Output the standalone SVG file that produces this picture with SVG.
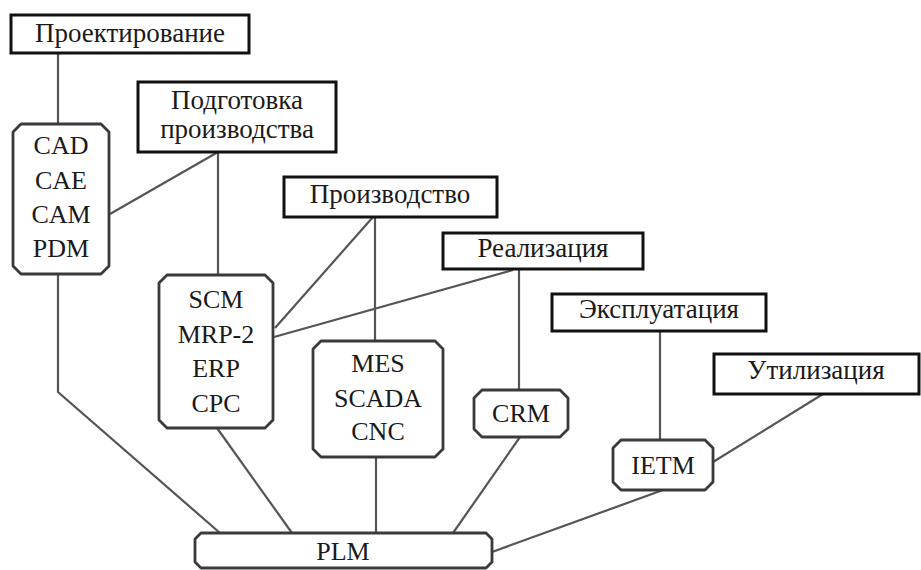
<svg xmlns="http://www.w3.org/2000/svg" width="921" height="570" viewBox="0 0 921 570">
  <style>
    .stage { fill: #ffffff; stroke: #111111; stroke-width: 3; }
    .sys { fill: #ffffff; stroke: #3a3a3a; stroke-width: 2.8; stroke-linejoin: round; }
    .link { fill: none; stroke: #555555; stroke-width: 2.2; }
    text { font-family: "Liberation Serif", "Times New Roman", serif; font-size: 26px; fill: #1a1a1a; text-anchor: middle; }
    .ru { font-size: 27px; }
  </style>
  <rect width="921" height="570" fill="#ffffff"/>

  <!-- connectors -->
  <g id="connectors">
    <line class="link" x1="58" y1="53" x2="58" y2="124"/>
    <polyline class="link" points="58,274 58,392 220,533"/>
    <line class="link" x1="218" y1="152" x2="110" y2="214"/>
    <line class="link" x1="218" y1="152" x2="218" y2="275"/>
    <line class="link" x1="373" y1="217" x2="275" y2="328"/>
    <line class="link" x1="375" y1="217" x2="375" y2="341"/>
    <line class="link" x1="513" y1="270" x2="274" y2="337"/>
    <line class="link" x1="519" y1="269" x2="519" y2="390"/>
    <line class="link" x1="660" y1="331" x2="660" y2="440"/>
    <line class="link" x1="823" y1="394" x2="713" y2="462"/>
    <line class="link" x1="217" y1="428" x2="292" y2="533"/>
    <line class="link" x1="376" y1="457" x2="376" y2="533"/>
    <line class="link" x1="520" y1="437" x2="453" y2="533"/>
    <line class="link" x1="663" y1="490" x2="492" y2="552"/>
  </g>

  <!-- lifecycle stages -->
  <g id="stage-design">
    <rect class="stage" x="11" y="15" width="238" height="38"/>
    <text class="ru" x="130" y="42">Проектирование</text>
  </g>
  <g id="stage-preparation">
    <rect class="stage" x="138" y="82" width="198" height="70"/>
    <text class="ru" x="237" y="109">Подготовка</text>
    <text class="ru" x="237" y="138">производства</text>
  </g>
  <g id="stage-production">
    <rect class="stage" x="284" y="177" width="213" height="40"/>
    <text class="ru" x="390" y="203">Производство</text>
  </g>
  <g id="stage-sales">
    <rect class="stage" x="443" y="233" width="200" height="36"/>
    <text class="ru" x="543" y="257">Реализация</text>
  </g>
  <g id="stage-operation">
    <rect class="stage" x="552" y="294" width="214" height="37"/>
    <text class="ru" x="659" y="318">Эксплуатация</text>
  </g>
  <g id="stage-disposal">
    <rect class="stage" x="714" y="354" width="205" height="40"/>
    <text class="ru" x="816" y="379">Утилизация</text>
  </g>

  <!-- information systems -->
  <g id="sys-cad">
    <path class="sys" d="M21,124 H101 L109,132 V266 L101,274 H21 L13,266 V132 Z"/>
    <text x="61" y="154">CAD</text>
    <text x="61" y="189">CAE</text>
    <text x="61" y="223">CAM</text>
    <text x="61" y="257">PDM</text>
  </g>
  <g id="sys-scm">
    <path class="sys" d="M167,275 H265 L273,283 V420 L265,428 H167 L159,420 V283 Z"/>
    <text x="216" y="308">SCM</text>
    <text x="216" y="343">MRP-2</text>
    <text x="216" y="377">ERP</text>
    <text x="216" y="412">CPC</text>
  </g>
  <g id="sys-mes">
    <path class="sys" d="M321,341 H435 L443,349 V449 L435,457 H321 L313,449 V349 Z"/>
    <text x="378" y="372">MES</text>
    <text x="378" y="407">SCADA</text>
    <text x="378" y="440">CNC</text>
  </g>
  <g id="sys-crm">
    <path class="sys" d="M482,390 H560 L568,398 V429 L560,437 H482 L474,429 V398 Z"/>
    <text x="521" y="422">CRM</text>
  </g>
  <g id="sys-ietm">
    <path class="sys" d="M621,440 H705 L713,448 V482 L705,490 H621 L613,482 V448 Z"/>
    <text x="663" y="474">IETM</text>
  </g>
  <g id="sys-plm">
    <path class="sys" d="M201,533 H486 L492,539 V562 L486,568 H201 L195,562 V539 Z"/>
    <text x="343" y="560">PLM</text>
  </g>
</svg>
